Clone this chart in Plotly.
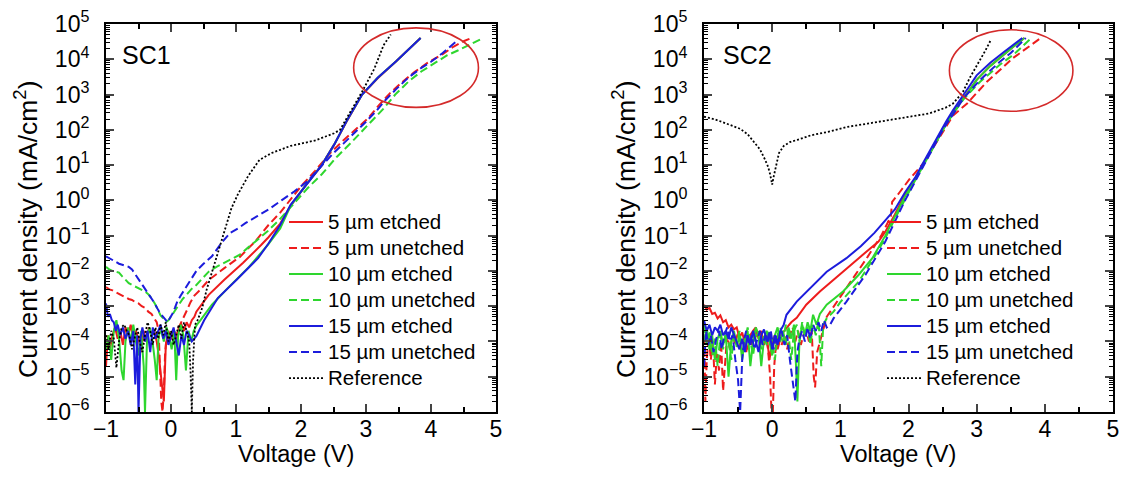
import plotly.graph_objects as go

# ---------------- SC1 ----------------
sc1_red_solid_v = [-1.00, -0.97, -0.94, -0.90, -0.86, -0.82, -0.78, -0.74, -0.70, -0.66,
                   -0.62, -0.58, -0.54, -0.50, -0.46, -0.42, -0.38, -0.34, -0.30, -0.26,
                   -0.22, -0.18, -0.14, -0.11, -0.08, -0.04, 0.00, 0.04, 0.08, 0.12,
                   0.16, 0.20, 0.24, 0.28, 0.32, 0.36, 0.39, 0.58, 0.82, 1.11,
                   1.39, 1.50, 1.68, 1.84, 2.08, 2.32, 2.51, 2.70, 2.94, 3.18, 3.46, 3.84]
sc1_red_solid_j = [2e-5, 1.5e-4, 6e-5, 1.5e-4, 2.5e-4, 1.2e-4, 2e-4, 8e-5, 2.5e-4, 1.5e-4,
                   3e-4, 1e-4, 2e-4, 1.2e-4, 5e-5, 2e-4, 1e-4, 2.5e-4, 1.5e-4, 2e-4,
                   1e-4, 3e-5, 6e-6, 2e-6, 8e-5, 2e-4, 1.2e-4, 2e-4, 1e-4, 2.5e-4,
                   3e-4, 2e-4, 3.5e-4, 2.5e-4, 4e-4, 5e-4, 7e-4, 2.1e-3, 5.6e-3, 1.7e-2,
                   5.5e-2, 9e-2, 0.22, 0.7, 2.8, 10, 38, 170, 1e3, 2.9e3, 8.7e3, 4e4]

sc1_red_dash_v = [-1.00, -0.95, -0.90, -0.85, -0.80, -0.75, -0.70, -0.65, -0.60, -0.55,
                  -0.50, -0.45, -0.40, -0.35, -0.30, -0.26, -0.22, -0.19, -0.17, -0.15,
                  -0.13, -0.11, -0.09, -0.06, -0.03, 0.00, 0.04, 0.08, 0.12, 0.16,
                  0.20, 0.25, 0.30, 0.36, 0.44, 0.58, 0.82, 1.06, 1.30, 1.50,
                  1.68, 1.84, 2.00, 2.22, 2.45, 2.65, 2.85, 3.03, 3.20, 3.37,
                  3.55, 3.75, 3.95, 4.18, 4.35, 4.51, 4.62]
sc1_red_dash_j = [3.5e-3, 3e-3, 2.8e-3, 2.5e-3, 2.2e-3, 2e-3, 1.8e-3, 1.6e-3, 1.5e-3, 1.3e-3,
                  1.2e-3, 1e-3, 9e-4, 7e-4, 6e-4, 4.5e-4, 3.5e-4, 2e-4, 3e-5, 2e-6,
                  1e-6, 4e-6, 5e-5, 1.5e-4, 1e-4, 1.5e-4, 1e-4, 2e-4, 2.5e-4, 3.5e-4,
                  5e-4, 8e-4, 1.3e-3, 2e-3, 2.8e-3, 5.5e-3, 1.2e-2, 2.5e-2, 7e-2, 0.2,
                  0.45, 1.1, 2.5, 7, 22, 50, 110, 210, 500, 1.1e3,
                  2.2e3, 4.4e3, 8e3, 1.4e4, 2.3e4, 3.3e4, 4e4]

sc1_green_solid_v = [-1.00, -0.96, -0.92, -0.88, -0.84, -0.80, -0.76, -0.73, -0.70, -0.66,
                     -0.62, -0.58, -0.54, -0.50, -0.46, -0.42, -0.40, -0.37, -0.33, -0.29,
                     -0.25, -0.22, -0.19, -0.15, -0.11, -0.07, -0.03, 0.01, 0.05, 0.08,
                     0.11, 0.15, 0.19, 0.23, 0.27, 0.31, 0.35, 0.40, 0.44, 0.63,
                     0.87, 1.20, 1.49, 1.68, 1.84, 2.08, 2.32, 2.51, 2.70, 2.94,
                     3.18, 3.46, 3.84]
sc1_green_solid_j = [6e-5, 1.5e-4, 3e-5, 2e-4, 4e-4, 1.2e-4, 1.5e-5, 8e-6, 1e-4, 2.5e-4,
                     1e-4, 3e-4, 1e-4, 4e-5, 2e-4, 2e-5, 1e-6, 1e-4, 2.5e-4, 1.2e-4,
                     3e-5, 8e-6, 1.5e-4, 2e-4, 1e-4, 2.5e-4, 1.5e-4, 6e-5, 2e-4, 8e-6,
                     1.5e-4, 3e-4, 1.5e-4, 1.5e-5, 2e-4, 1e-4, 2e-4, 3e-4, 3.7e-4, 1.1e-3,
                     3.2e-3, 1.3e-2, 5.5e-2, 0.16, 0.7, 2.8, 10, 38, 175, 1e3,
                     3e3, 8.7e3, 4e4]

sc1_green_dash_v = [-1.00, -0.95, -0.90, -0.85, -0.80, -0.75, -0.70, -0.65, -0.60, -0.55,
                    -0.50, -0.45, -0.40, -0.35, -0.30, -0.25, -0.20, -0.16, -0.12, -0.08,
                    -0.04, 0.00, 0.04, 0.08, 0.12, 0.18, 0.24, 0.31, 0.39, 0.48,
                    0.58, 0.70, 0.82, 0.94, 1.06, 1.18, 1.30, 1.48, 1.68, 1.93,
                    2.10, 2.32, 2.55, 2.79, 3.03, 3.27, 3.45, 3.65, 3.85, 4.04,
                    4.25, 4.42, 4.62, 4.80]
sc1_green_dash_j = [1.3e-2, 1.1e-2, 1e-2, 9.5e-3, 9e-3, 7e-3, 5.5e-3, 4.5e-3, 4e-3, 3.6e-3,
                    3.3e-3, 3e-3, 2.6e-3, 2.2e-3, 1.7e-3, 1.2e-3, 8e-4, 5.5e-4, 4.5e-4, 3.5e-4,
                    4e-4, 5e-4, 6.5e-4, 8.5e-4, 1.1e-3, 1.6e-3, 2.1e-3, 3e-3, 4e-3, 6e-3,
                    9.5e-3, 1.3e-2, 1.7e-2, 2.2e-2, 2.9e-2, 4.5e-2, 7e-2, 0.13, 0.3, 0.95,
                    2.2, 5.5, 17, 47, 140, 400, 1e3, 2.3e3, 4.5e3, 7.5e3,
                    1.3e4, 1.8e4, 2.8e4, 4e4]

sc1_blue_solid_v = [-1.00, -0.97, -0.94, -0.91, -0.88, -0.85, -0.82, -0.78, -0.74, -0.70,
                    -0.66, -0.62, -0.58, -0.55, -0.52, -0.50, -0.47, -0.44, -0.40, -0.36,
                    -0.32, -0.28, -0.24, -0.20, -0.16, -0.12, -0.08, -0.04, 0.00, 0.04,
                    0.08, 0.12, 0.16, 0.20, 0.24, 0.28, 0.32, 0.36, 0.39, 0.51,
                    0.72, 1.01, 1.34, 1.50, 1.68, 1.84, 2.08, 2.32, 2.51, 2.70,
                    2.94, 3.18, 3.46, 3.84]
sc1_blue_solid_j = [1.2e-3, 5e-4, 6e-4, 4e-4, 3.5e-4, 2e-4, 3e-4, 1.5e-4, 2.5e-4, 1.2e-4,
                    2e-4, 8e-5, 2e-4, 6e-6, 1.5e-4, 1e-6, 1.2e-4, 2.5e-4, 1e-4, 2e-4,
                    5e-5, 2.5e-4, 1.2e-4, 2e-4, 3e-4, 1.2e-4, 2e-4, 8e-5, 1.5e-4, 2.5e-4,
                    1e-4, 4e-5, 1.5e-4, 8e-5, 2e-4, 1.5e-4, 1e-4, 1.2e-4, 1.4e-4, 4e-4,
                    1.7e-3, 5.6e-3, 2.3e-2, 6e-2, 0.2, 0.75, 2.8, 10, 38, 175,
                    1e3, 3e3, 8.7e3, 4e4]

sc1_blue_dash_v = [-1.00, -0.95, -0.90, -0.85, -0.80, -0.75, -0.70, -0.65, -0.60, -0.55,
                   -0.50, -0.45, -0.40, -0.35, -0.30, -0.25, -0.20, -0.16, -0.12, -0.08,
                   -0.05, -0.02, 0.02, 0.06, 0.10, 0.15, 0.20, 0.26, 0.33, 0.39,
                   0.50, 0.63, 0.77, 0.91, 1.03, 1.15, 1.32, 1.50, 1.70, 1.90,
                   2.10, 2.32, 2.50, 2.66, 2.85, 3.00, 3.15, 3.30, 3.46, 3.65,
                   3.84, 4.00, 4.18, 4.30, 4.41]
sc1_blue_dash_j = [2.6e-2, 2.3e-2, 2e-2, 1.8e-2, 1.6e-2, 1.5e-2, 1.4e-2, 1.3e-2, 1.1e-2, 8e-3,
                   6e-3, 4.5e-3, 3.2e-3, 2.4e-3, 1.7e-3, 1.2e-3, 8e-4, 6e-4, 5e-4, 4e-4,
                   3.5e-4, 4.5e-4, 6e-4, 9e-4, 1.4e-3, 2e-3, 2.8e-3, 4e-3, 6.5e-3, 1e-2,
                   1.6e-2, 2.6e-2, 6e-2, 0.12, 0.16, 0.23, 0.35, 0.55, 1.0, 1.8,
                   3.5, 10, 22, 42, 90, 170, 330, 700, 1.4e3, 3e3,
                   5.5e3, 8.5e3, 1.5e4, 2.3e4, 3.5e4]

sc1_ref_v = [-1.00, -0.96, -0.92, -0.88, -0.84, -0.80, -0.76, -0.72, -0.68, -0.64,
             -0.60, -0.56, -0.52, -0.48, -0.44, -0.40, -0.36, -0.32, -0.28, -0.24,
             -0.20, -0.16, -0.12, -0.08, -0.04, 0.00, 0.04, 0.08, 0.12, 0.16,
             0.20, 0.24, 0.28, 0.30, 0.32, 0.34, 0.37, 0.41, 0.48, 0.55,
             0.63, 0.72, 0.82, 0.93, 1.03, 1.19, 1.36, 1.55, 1.84, 2.22,
             2.51, 2.60, 2.75, 2.94, 3.13, 3.27, 3.38]
sc1_ref_j = [1.5e-4, 6e-5, 2e-4, 1.2e-4, 1.8e-5, 1e-4, 2.5e-4, 3e-4, 2e-4, 1.5e-4,
             6e-5, 1.2e-4, 2.5e-4, 1e-4, 5e-5, 1.5e-4, 3.5e-4, 2e-4, 8e-5, 2.5e-4,
             1.2e-4, 3e-4, 1.5e-4, 3.5e-4, 1e-4, 2e-4, 8e-5, 1.5e-4, 3e-4, 1.2e-4,
             3.5e-4, 2e-4, 1e-4, 1.5e-5, 1e-6, 3e-5, 3e-4, 4e-4, 9e-4, 3e-3,
             9e-3, 3e-2, 0.13, 0.6, 1.5, 5, 14, 22, 35, 50,
             80, 100, 300, 1.2e3, 5.5e3, 2.5e4, 5e4]

# ---------------- SC2 ----------------
sc2_red_solid_v = [-1.00, -0.96, -0.92, -0.88, -0.84, -0.80, -0.76, -0.72, -0.68, -0.64,
                   -0.60, -0.56, -0.52, -0.48, -0.44, -0.40, -0.36, -0.32, -0.28, -0.24,
                   -0.20, -0.16, -0.12, -0.08, -0.04, 0.00, 0.04, 0.08, 0.12, 0.16,
                   0.21, 0.28, 0.36, 0.50, 0.70, 0.98, 1.27, 1.56, 1.66, 1.80,
                   1.95, 2.10, 2.22, 2.35, 2.45, 2.55, 2.65, 2.75, 2.85, 3.00,
                   3.20, 3.40, 3.55, 3.70]
sc2_red_solid_j = [1.1e-3, 8e-4, 9e-4, 6e-4, 6.5e-4, 4.5e-4, 5.5e-4, 3.5e-4, 4e-4, 2.5e-4,
                   3e-4, 2.2e-4, 2.5e-4, 1.3e-4, 1.8e-4, 9e-5, 6e-5, 1.5e-4, 2e-4, 2.5e-4,
                   1.2e-4, 2e-4, 8e-5, 1.5e-4, 3e-5, 1e-4, 1.5e-4, 6e-5, 1.2e-4, 1.8e-4,
                   2.4e-4, 3.5e-4, 4.7e-4, 1.1e-3, 2.6e-3, 7.8e-3, 2.3e-2, 6.8e-2, 0.13, 0.4,
                   1.5, 4.2, 11, 30, 70, 150, 300, 550, 1e3, 2.6e3,
                   6.5e3, 1.4e4, 2.4e4, 4e4]

sc2_red_dash_v = [-1.00, -0.98, -0.96, -0.93, -0.90, -0.87, -0.84, -0.81, -0.78, -0.75,
                  -0.72, -0.69, -0.66, -0.62, -0.58, -0.54, -0.50, -0.46, -0.42, -0.38,
                  -0.34, -0.30, -0.26, -0.22, -0.18, -0.14, -0.10, -0.06, -0.03, -0.01,
                  0.01, 0.03, 0.06, 0.10, 0.14, 0.18, 0.22, 0.26, 0.30, 0.34,
                  0.38, 0.42, 0.46, 0.50, 0.54, 0.58, 0.61, 0.63, 0.66, 0.80,
                  1.00, 1.20, 1.40, 1.60, 1.74, 1.75, 1.76, 1.87, 2.02, 2.23,
                  2.44, 2.55, 2.65, 2.86, 3.15, 3.53, 3.94]
sc2_red_dash_j = [3e-4, 2e-6, 3e-5, 1.5e-4, 3e-5, 1e-4, 6e-6, 5e-5, 1.5e-5, 1e-4,
                  4e-6, 3e-5, 1.5e-4, 6e-5, 1.5e-4, 8e-5, 2e-4, 6e-5, 1e-4, 5e-5,
                  1.5e-4, 8e-5, 2.5e-4, 1.2e-4, 2e-4, 8e-5, 1.5e-4, 6e-5, 1e-5, 1e-6,
                  1e-6, 2e-5, 1e-4, 2e-4, 8e-5, 1.5e-4, 6e-5, 1.5e-4, 2.5e-4, 1e-4,
                  2e-4, 8e-5, 1.5e-4, 2e-4, 1e-4, 2e-4, 1e-5, 5e-6, 5e-5, 5e-4,
                  1.8e-3, 7e-3, 2.5e-2, 0.1, 0.35, 0.55, 0.9, 1.7, 4.1, 12,
                  56, 130, 250, 560, 2.3e3, 1.07e4, 4e4]

sc2_green_solid_v = [-1.00, -0.96, -0.92, -0.88, -0.84, -0.80, -0.76, -0.72, -0.68, -0.64,
                     -0.60, -0.56, -0.52, -0.48, -0.44, -0.40, -0.36, -0.32, -0.28, -0.24,
                     -0.20, -0.16, -0.12, -0.08, -0.04, 0.00, 0.04, 0.08, 0.12, 0.16,
                     0.20, 0.24, 0.28, 0.32, 0.35, 0.37, 0.40, 0.44, 0.48, 0.52,
                     0.56, 0.60, 0.65, 0.70, 0.80, 1.04, 1.27, 1.47, 1.66, 1.80,
                     1.95, 2.10, 2.22, 2.35, 2.45, 2.55, 2.65, 2.75, 2.85, 3.00,
                     3.20, 3.40, 3.55, 3.70]
sc2_green_solid_j = [1e-4, 2.5e-4, 6e-5, 1.5e-4, 3e-5, 1.2e-4, 2e-4, 8e-5, 1.5e-4, 1e-5,
                     1e-4, 2e-4, 7e-5, 1.5e-4, 3e-5, 1.2e-4, 2e-4, 2e-5, 1e-4, 2.5e-4,
                     1.5e-4, 2e-5, 1.2e-4, 2e-4, 1e-4, 4e-5, 1.5e-4, 2.5e-4, 1e-4, 2e-4,
                     8e-5, 2.5e-4, 1.2e-4, 3e-4, 2e-5, 2e-6, 1e-4, 3e-4, 1.5e-4, 3.5e-4,
                     2e-4, 5.7e-4, 3e-4, 6e-4, 1.1e-3, 2.6e-3, 7.8e-3, 2.3e-2, 0.1, 0.35,
                     1.3, 4, 11, 30, 70, 150, 300, 550, 1e3, 2.6e3,
                     6.5e3, 1.4e4, 2.4e4, 4e4]

sc2_green_dash_v = [-1.00, -0.96, -0.92, -0.88, -0.84, -0.80, -0.76, -0.72, -0.68, -0.64,
                    -0.60, -0.56, -0.52, -0.48, -0.44, -0.40, -0.36, -0.32, -0.28, -0.24,
                    -0.20, -0.16, -0.12, -0.08, -0.04, 0.00, 0.04, 0.08, 0.12, 0.16,
                    0.20, 0.24, 0.28, 0.32, 0.36, 0.40, 0.44, 0.48, 0.52, 0.56,
                    0.60, 0.64, 0.68, 0.72, 0.75, 0.80, 0.90, 1.00, 1.27, 1.47,
                    1.66, 1.80, 1.95, 2.10, 2.22, 2.35, 2.45, 2.55, 2.65, 2.81,
                    3.05, 3.34, 3.55, 3.80]
sc2_green_dash_j = [3e-4, 8e-5, 2e-4, 4e-5, 1.2e-4, 2e-5, 1.5e-4, 6e-5, 2e-4, 1e-4,
                    3e-5, 1.5e-4, 8e-5, 2e-4, 5e-5, 1e-4, 2.5e-4, 1e-4, 4e-5, 1.5e-4,
                    2e-4, 6e-5, 1.5e-4, 8e-5, 2e-4, 1e-4, 3e-5, 1.5e-4, 2.5e-4, 1e-4,
                    3e-4, 1.5e-4, 3e-5, 2e-4, 3e-4, 1e-4, 3.5e-4, 1.5e-4, 2.5e-4, 8e-5,
                    3e-4, 1.5e-4, 4e-4, 2e-5, 3e-4, 4.5e-4, 7e-4, 1.3e-3, 5e-3, 2e-2,
                    8.5e-2, 0.3, 1.1, 3.8, 10, 28, 65, 140, 280, 750,
                    2.3e3, 7e3, 1.4e4, 4e4]

sc2_blue_solid_v = [-1.00, -0.96, -0.92, -0.88, -0.84, -0.80, -0.76, -0.72, -0.68, -0.64,
                    -0.60, -0.56, -0.52, -0.48, -0.44, -0.40, -0.36, -0.32, -0.28, -0.24,
                    -0.20, -0.16, -0.12, -0.08, -0.04, 0.00, 0.04, 0.08, 0.12, 0.17,
                    0.21, 0.36, 0.56, 0.80, 1.09, 1.30, 1.50, 1.66, 1.80, 1.95,
                    2.10, 2.22, 2.35, 2.45, 2.55, 2.65, 2.75, 2.85, 3.00, 3.20,
                    3.40, 3.55, 3.67]
sc2_blue_solid_j = [4e-4, 2e-4, 3e-4, 1.5e-4, 2.5e-4, 2e-4, 3e-4, 1.5e-4, 2e-4, 1.2e-4,
                    2.5e-4, 1.5e-4, 1e-4, 6e-5, 1.2e-4, 5e-5, 1.5e-4, 8e-5, 2e-4, 1e-4,
                    5e-5, 1.5e-4, 2.2e-4, 1e-4, 1.8e-4, 6e-5, 1.5e-4, 8e-5, 2e-4, 3e-4,
                    5.7e-4, 1.35e-3, 3.2e-3, 9.5e-3, 2.3e-2, 5e-2, 0.12, 0.28, 0.55, 1.7,
                    4.5, 12, 35, 80, 170, 350, 650, 1.3e3, 3.5e3, 8e3,
                    1.6e4, 2.6e4, 4e4]

sc2_blue_dash_v = [-1.00, -0.97, -0.94, -0.90, -0.86, -0.82, -0.78, -0.74, -0.70, -0.66,
                   -0.62, -0.58, -0.54, -0.50, -0.47, -0.44, -0.41, -0.38, -0.34, -0.30,
                   -0.26, -0.22, -0.18, -0.14, -0.10, -0.06, -0.02, 0.02, 0.06, 0.10,
                   0.14, 0.18, 0.22, 0.26, 0.30, 0.34, 0.37, 0.40, 0.44, 0.48,
                   0.52, 0.56, 0.60, 0.64, 0.68, 0.72, 0.76, 0.80, 0.85, 0.90,
                   1.00, 1.09, 1.37, 1.66, 1.80, 1.95, 2.10, 2.22, 2.35, 2.45,
                   2.55, 2.65, 2.81, 3.05, 3.34, 3.50, 3.72]
sc2_blue_dash_j = [2e-5, 2e-4, 8e-5, 1.5e-4, 5e-5, 1.2e-4, 2e-4, 6e-5, 1.5e-4, 2.5e-4,
                   1e-4, 1.5e-4, 3e-5, 8e-6, 1e-6, 3e-5, 1.2e-4, 2e-4, 8e-5, 1.5e-4,
                   6e-5, 1.2e-4, 2e-4, 8e-5, 1.5e-4, 1e-4, 2e-4, 6e-5, 1.5e-4, 1e-4,
                   2e-4, 8e-5, 1.5e-4, 3e-5, 8e-6, 2e-6, 5e-5, 1.2e-4, 2e-4, 1e-4,
                   2.5e-4, 1.2e-4, 3e-4, 2e-4, 3.5e-4, 2e-4, 4e-4, 2.5e-4, 3e-4, 4.5e-4,
                   8e-4, 1.35e-3, 7.8e-3, 6.8e-2, 0.25, 1.0, 3.5, 10, 28, 65,
                   140, 270, 800, 2.6e3, 8.5e3, 1.5e4, 4e4]

sc2_ref_v = [-1.00, -0.85, -0.73, -0.60, -0.47, -0.36, -0.26, -0.18, -0.11, -0.06,
             -0.03, 0.00, 0.02, 0.05, 0.10, 0.17, 0.26, 0.37, 0.57, 0.85,
             1.09, 1.40, 1.71, 2.00, 2.30, 2.54, 2.65, 2.72, 2.80, 2.90,
             2.98, 3.06, 3.13, 3.21]
sc2_ref_j = [235, 200, 166, 135, 107, 75, 45, 28, 15, 9,
             5.5, 2.8, 4.5, 9, 22, 35, 45, 52, 70, 90,
             120, 150, 190, 230, 290, 420, 550, 780, 1.2e3, 3e3,
             5.5e3, 1.05e4, 1.8e4, 3.6e4]

labels = ["5 µm etched", "5 µm unetched", "10 µm etched", "10 µm unetched",
          "15 µm etched", "15 µm unetched", "Reference"]

y_tick_vals = [1e-6, 1e-5, 1e-4, 1e-3, 1e-2, 1e-1, 1e0, 1e1, 1e2, 1e3, 1e4, 1e5]
y_tick_text = ["10<sup>−6</sup>", "10<sup>−5</sup>", "10<sup>−4</sup>", "10<sup>−3</sup>",
               "10<sup>−2</sup>", "10<sup>−1</sup>", "10<sup>0</sup>", "10<sup>1</sup>",
               "10<sup>2</sup>", "10<sup>3</sup>", "10<sup>4</sup>", "10<sup>5</sup>"]

RED, GREEN, BLUE = "#ee1c1c", "#2ed62e", "#1c1cdc"
FONT = "Liberation Sans, Arial, sans-serif"

sc1 = [(sc1_red_solid_v, sc1_red_solid_j), (sc1_red_dash_v, sc1_red_dash_j),
       (sc1_green_solid_v, sc1_green_solid_j), (sc1_green_dash_v, sc1_green_dash_j),
       (sc1_blue_solid_v, sc1_blue_solid_j), (sc1_blue_dash_v, sc1_blue_dash_j),
       (sc1_ref_v, sc1_ref_j)]
sc2 = [(sc2_red_solid_v, sc2_red_solid_j), (sc2_red_dash_v, sc2_red_dash_j),
       (sc2_green_solid_v, sc2_green_solid_j), (sc2_green_dash_v, sc2_green_dash_j),
       (sc2_blue_solid_v, sc2_blue_solid_j), (sc2_blue_dash_v, sc2_blue_dash_j),
       (sc2_ref_v, sc2_ref_j)]

styles = [(RED, "solid", 2), (RED, "8px,4px", 2), (GREEN, "solid", 2), (GREEN, "8px,4px", 2),
          (BLUE, "solid", 2), (BLUE, "8px,4px", 2), ("black", "2px,2px", 1.8)]

fig = go.Figure()
for panel, (xa, ya, leg) in zip([sc1, sc2], [("x", "y", "legend"), ("x2", "y2", "legend2")]):
    for (v, j), name, (col, dash, w) in zip(panel, labels, styles):
        assert len(v) == len(j), name
        fig.add_trace(go.Scatter(x=v, y=j, mode="lines", xaxis=xa, yaxis=ya, legend=leg,
                                 name='<span style="font-size:20.5px">%s</span>' % name,
                                 line=dict(color=col, dash=dash, width=w)))

xax = dict(range=[-1, 5], dtick=1, ticks="inside", ticklen=8, tickwidth=2,
           showline=True, linewidth=2, linecolor="black", mirror="allticks",
           showgrid=False, zeroline=False, automargin=False, ticklabelstandoff=-5,
           ticklabeloverflow="allow", tickfont=dict(size=23, color="black"),
           minor=dict(dtick=0.5, ticks="inside", ticklen=5, tickwidth=1.5, tickcolor="black"))
yax = dict(type="log", range=[-6, 5], tickmode="array", tickvals=y_tick_vals,
           ticktext=y_tick_text, ticks="inside", ticklen=8, tickwidth=2,
           showline=True, linewidth=2, linecolor="black", mirror="allticks",
           showgrid=False, zeroline=False, automargin=False, ticklabelstandoff=10,
           ticklabeloverflow="allow", tickfont=dict(size=23, color="black"),
           minor=dict(dtick="D1", ticks="inside", ticklen=4, tickwidth=1.2, tickcolor="black"))

W, H = 1132, 477
TOP, BOT = 16, 404
legend_style = dict(xanchor="left", yanchor="top", bgcolor="rgba(0,0,0,0)",
                    font=dict(size=17.7), tracegroupgap=0, itemwidth=34)
fig.update_layout(
    width=W, height=H, margin=dict(l=0, r=0, t=0, b=0, autoexpand=False),
    paper_bgcolor="white", plot_bgcolor="white",
    font=dict(family=FONT, color="black"),
    xaxis=dict(domain=[98 / W, 488 / W], anchor="y", **xax),
    yaxis=dict(domain=[1 - BOT / H, 1 - TOP / H], anchor="x", **yax),
    xaxis2=dict(domain=[696 / W, 1105 / W], anchor="y2", **xax),
    yaxis2=dict(domain=[1 - BOT / H, 1 - TOP / H], anchor="x2", **yax),
    legend=dict(x=276 / W, y=1 - 196 / H, **legend_style),
    legend2=dict(x=874 / W, y=1 - 196 / H, **legend_style),
    showlegend=True,
)

ann = []
for xc, xt in [(18 / W, 288 / W), (616 / W, 890 / W)]:
    ann.append(dict(text="Current density (mA/cm<sup>2</sup>)", x=xc, y=1 - 222 / H,
                    xref="paper", yref="paper", textangle=-90, showarrow=False,
                    font=dict(size=26.5), xanchor="center", yanchor="middle"))
    ann.append(dict(text="Voltage (V)", x=xt, y=1 - 446 / H, xref="paper", yref="paper",
                    showarrow=False, font=dict(size=23.5), xanchor="center", yanchor="middle"))
ann.append(dict(text="SC1", x=-0.78, y=4.12, xref="x", yref="y", showarrow=False,
                font=dict(size=25), xanchor="left", yanchor="middle"))
ann.append(dict(text="SC2", x=-0.75, y=4.12, xref="x2", yref="y2", showarrow=False,
                font=dict(size=25), xanchor="left", yanchor="middle"))
fig.update_layout(annotations=ann)

fig.add_shape(type="circle", xref="x domain", yref="y domain", x0=0.635, x1=0.955,
              y0=0.785, y1=0.99, line=dict(color="#d42a2a", width=1.6))
fig.add_shape(type="circle", xref="x2 domain", yref="y2 domain", x0=0.60, x1=0.902,
              y0=0.775, y1=0.985, line=dict(color="#d42a2a", width=1.6))

fig.write_html("out.html")
